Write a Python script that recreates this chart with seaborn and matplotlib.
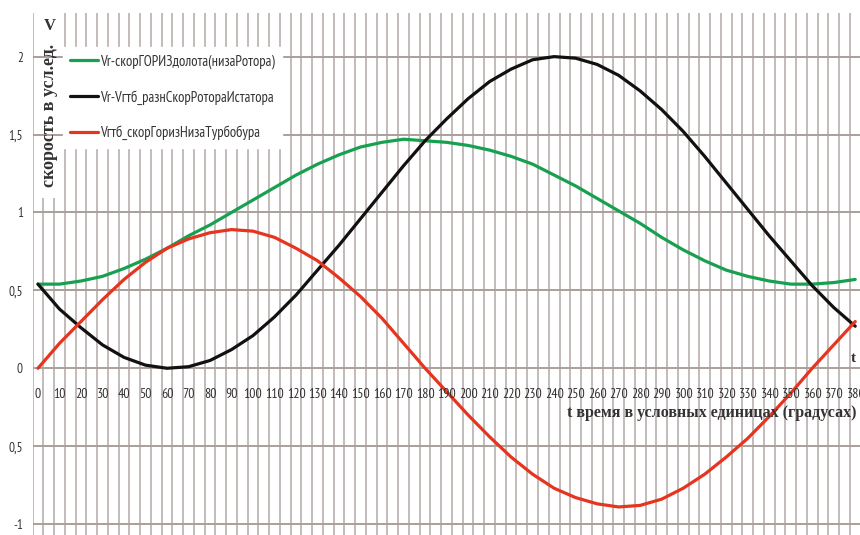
import numpy as np
import pandas as pd
import matplotlib
matplotlib.use("Agg")
import matplotlib.pyplot as plt
from matplotlib.patches import Rectangle
import seaborn as sns

# time axis, conventional units (degrees)
t = list(range(0, 390, 10))

# Vr - horizontal speed of bit (rotor bottom)
v_rotor = [0.54, 0.54, 0.56, 0.59, 0.64, 0.70, 0.77, 0.85, 0.92, 1.00,
           1.08, 1.16, 1.24, 1.31, 1.37, 1.42, 1.45, 1.47, 1.46, 1.45,
           1.43, 1.40, 1.36, 1.31, 1.24, 1.17, 1.09, 1.01, 0.93, 0.84,
           0.76, 0.69, 0.63, 0.59, 0.56, 0.54, 0.54, 0.55, 0.57]
# Vr - Vgtb difference
v_diff = [0.54, 0.38, 0.26, 0.15, 0.07, 0.02, 0.00, 0.01, 0.05, 0.12,
          0.21, 0.33, 0.47, 0.63, 0.79, 0.96, 1.13, 1.30, 1.46, 1.60,
          1.73, 1.84, 1.92, 1.98, 2.00, 1.99, 1.95, 1.88, 1.78, 1.66,
          1.52, 1.36, 1.19, 1.02, 0.85, 0.69, 0.53, 0.39, 0.27]
# Vgtb - turbodrill bottom speed
v_turbo = [0.00, 0.16, 0.30, 0.44, 0.57, 0.68, 0.77, 0.83, 0.87, 0.89,
           0.88, 0.84, 0.77, 0.69, 0.58, 0.46, 0.32, 0.16, 0.00, -0.15,
           -0.30, -0.44, -0.57, -0.68, -0.77, -0.83, -0.87, -0.89, -0.88, -0.84,
           -0.77, -0.68, -0.57, -0.45, -0.31, -0.16, 0.00, 0.15, 0.30]

series_names = ["Vr-скорГОРИЗдолота(низаРотора)",
                "Vr-Vгтб_разнСкорРотораИстатора",
                "Vгтб_скорГоризНизаТурбобура"]
series_colors = ["#17a04f", "#111111", "#e6341f"]

y_ticks = [2, 1.5, 1, 0.5, 0, -0.5, -1]
y_tick_labels = ["2", "1,5", "1", "0,5", "0", "0,5", "-1"]
x_tick_labels = [str(v) for v in range(0, 390, 10)]

sns.set_style("white")
plt.rcParams['font.family'] = ['PT Sans Narrow', 'DejaVu Sans']
SERIF = ['Liberation Serif', 'DejaVu Serif']
TXT = "#333333"

df = pd.DataFrame({
    "t": t * 3,
    "v": v_rotor + v_diff + v_turbo,
    "series": [n for n in series_names for _ in t],
})

fig = plt.figure(figsize=(8.6, 5.35), dpi=100)
ax = fig.add_axes([32.6 / 860, 0, 828 / 860, 522 / 535])

sns.lineplot(data=df, x="t", y="v", hue="series", palette=series_colors,
             hue_order=series_names, linewidth=2.3, ax=ax, legend=False, zorder=5)

ax.set_xlim(-2.5, 382.5)
ax.set_ylim(-1.07, 2.28)

# category-style grid: vertical lines between 5-unit categories, horizontal every 0.5
for xv in np.arange(-2.5, 383, 5):
    ax.axvline(xv, color="#bdb5b3", linewidth=1.3, zorder=1)
ax.set_yticks(y_ticks)
ax.set_yticklabels(y_tick_labels, fontsize=9.5, color=TXT)
for yv in y_ticks:
    ax.axhline(yv, color="#a9a09c", linewidth=1.4, zorder=2)
ax.tick_params(axis="y", length=4, width=1.2, color="#a9a09c", pad=3)
ax.set_xticks([])
for s in ax.spines.values():
    s.set_visible(False)
ax.set_xlabel("")
ax.set_ylabel("")

# white strip behind the vertical axis title
ax.add_patch(Rectangle((-1, 1.09), 12, 1.2, facecolor="white", edgecolor="none", zorder=1.5))

# x tick labels sit just below the zero line
for lab in x_tick_labels:
    ax.text(int(lab), -0.17, lab, ha="center", va="center", fontsize=10,
            color=TXT, zorder=6)

ax.text(380.5, -0.29, "t время в условных единицах (градусах)", ha="right", va="center",
        fontsize=11.5, fontweight="bold", family=SERIF, color=TXT, zorder=6)
ax.text(380.5, 0.06, "t", ha="right", va="center", fontsize=11, fontweight="bold",
        family=SERIF, color=TXT, zorder=6)
fig.text(50 / 860, 1 - 26 / 535, "V", ha="center", va="center", fontsize=12,
         fontweight="bold", family=SERIF, color=TXT)
fig.text(49 / 860, 1 - 115 / 535, "скорость в усл.ед.", rotation=90, ha="center",
         va="center", fontsize=13, fontweight="bold", family=SERIF, color=TXT)

handles = [plt.Line2D([], [], color=c, linewidth=2.3) for c in series_colors]
leg = ax.legend(handles, series_names, loc="upper left",
                bbox_to_anchor=((63 - 32.6) / 828, 1 - (47 - 13) / 522), borderaxespad=0,
                frameon=True, fancybox=False, framealpha=1, edgecolor="white",
                fontsize=10.5, handlelength=1.9, handletextpad=0.15, labelspacing=1.45,
                labelcolor=TXT, borderpad=0.5)
leg.set_zorder(10)

fig.savefig("out.png", dpi=100)
